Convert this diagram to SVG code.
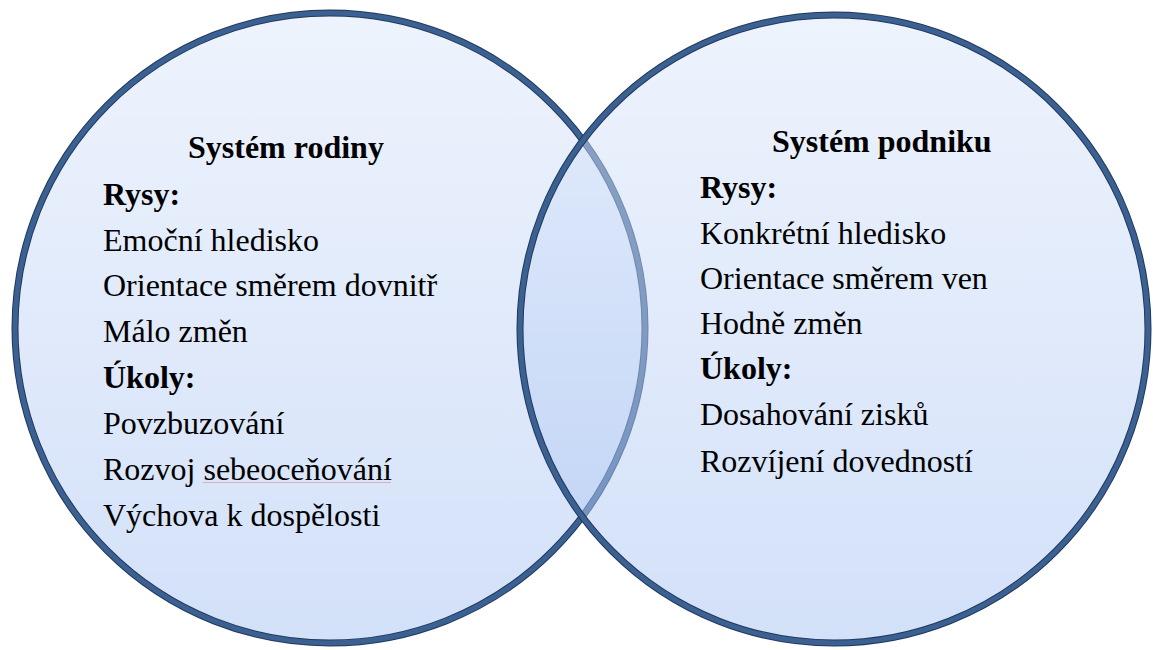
<svg xmlns="http://www.w3.org/2000/svg" width="1153" height="650" viewBox="0 0 1153 650">
  <defs>
    <linearGradient id="fillGrad" x1="0" y1="0" x2="0" y2="1">
      <stop offset="0" stop-color="#dde8fa"/>
      <stop offset="1" stop-color="#a6c2f2"/>
    </linearGradient>
    <style>
      .disc { fill: url(#fillGrad); fill-opacity: 0.5; }
      .rim-outer { fill: none; stroke: #22385a; stroke-width: 7; }
      .rim { fill: none; stroke: #3b6192; stroke-width: 5; }
      text { fill: #000; font-family: "Liberation Serif", "Times New Roman", serif; font-size: 32px; }
      .title, .head { font-weight: bold; }
      .spell { stroke: #e8949c; stroke-width: 1; stroke-opacity: 0.7; }
    </style>
  </defs>

  <rect width="1153" height="650" fill="#ffffff"/>

  <!-- family system circle -->
  <g id="family">
    <circle class="disc" cx="330" cy="328" r="315"/>
    <circle class="rim-outer" cx="330" cy="328" r="315"/>
    <circle class="rim" cx="330" cy="328" r="315"/>
    <text class="title" x="188" y="158">Systém rodiny</text>
    <text class="head" x="103" y="205">Rysy:</text>
    <text class="item" x="103" y="251">Emoční hledisko</text>
    <text class="item" x="103" y="296">Orientace směrem dovnitř</text>
    <text class="item" x="103" y="342">Málo změn</text>
    <text class="head" x="103" y="388">Úkoly:</text>
    <text class="item" x="103" y="434">Povzbuzování</text>
    <text class="item" x="103" y="480">Rozvoj sebeoceňování</text>
    <line class="spell" x1="203" y1="482.5" x2="391" y2="482.5"/>
    <text class="item" x="103" y="526">Výchova k dospělosti</text>
  </g>

  <!-- business system circle, translucent over the first -->
  <g id="business">
    <circle class="disc" cx="834" cy="329" r="314"/>
    <circle class="rim-outer" cx="834" cy="329" r="314"/>
    <circle class="rim" cx="834" cy="329" r="314"/>
    <text class="title" x="772" y="152">Systém podniku</text>
    <text class="head" x="700" y="198">Rysy:</text>
    <text class="item" x="700" y="244">Konkrétní hledisko</text>
    <text class="item" x="700" y="289">Orientace směrem ven</text>
    <text class="item" x="700" y="334">Hodně změn</text>
    <text class="head" x="700" y="379">Úkoly:</text>
    <text class="item" x="700" y="425">Dosahování zisků</text>
    <text class="item" x="700" y="472">Rozvíjení dovedností</text>
  </g>

  <g id="connectors"/>
</svg>
